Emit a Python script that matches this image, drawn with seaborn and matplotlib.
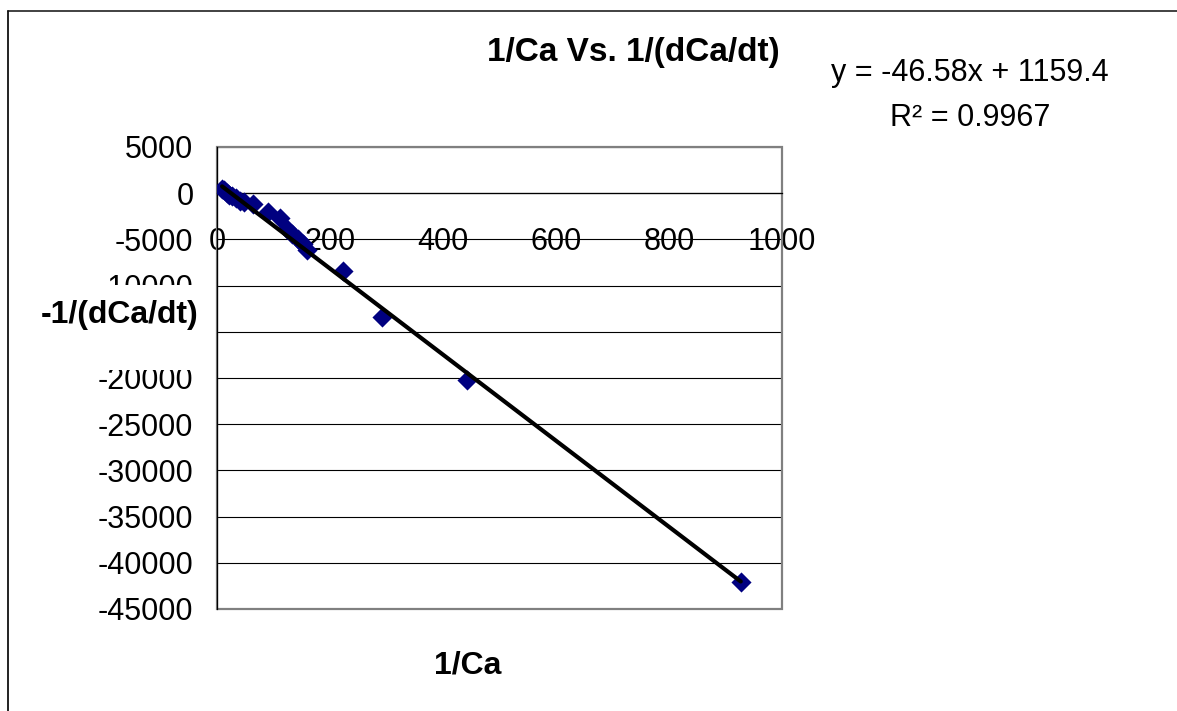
import matplotlib
matplotlib.use("Agg")
import matplotlib.pyplot as plt
from matplotlib.patches import Rectangle
from matplotlib.lines import Line2D
import numpy as np
import pandas as pd
import seaborn as sns

# Measured reciprocal concentration vs reciprocal rate
inv_ca = [9, 13, 17, 22, 27, 33, 40, 47, 63, 90, 111, 124, 133, 143, 152, 159,
          223, 292, 442, 927]
neg_inv_rate = [450, 300, 50, -150, -350, -550, -800, -1000, -1200, -2050, -2700,
                -3900, -4400, -5000, -5500, -6100, -8400, -13400, -20250, -42100]

# Linear trendline reported for the series
slope = -46.58
intercept = 1159.4
r_squared = 0.9967

x_ticks = [0, 200, 400, 600, 800, 1000]
y_ticks = [5000, 0, -5000, -10000, -15000, -20000, -25000, -30000, -35000,
           -40000, -45000]

title_text = "1/Ca Vs. 1/(dCa/dt)"
x_label = "1/Ca"
y_label = "-1/(dCa/dt)"

sns.set_style("white")
plt.rcParams["font.family"] = ["Liberation Sans", "DejaVu Sans"]

W, H = 1177, 711
fig = plt.figure(figsize=(W / 100, H / 100), dpi=100)
fig.patch.set_facecolor("white")


def fx(px):
    return px / W


def fy(py):
    return 1 - py / H


ax = fig.add_axes([fx(217), fy(609), fx(782) - fx(217), fy(147) - fy(609)])

df = pd.DataFrame({"x": inv_ca, "y": neg_inv_rate})
fit_x = np.array([min(inv_ca), max(inv_ca)], dtype=float)
fit = pd.DataFrame({"x": fit_x, "y": slope * fit_x + intercept})

ax.set_xlim(0, 1000)
ax.set_ylim(-45000, 5000)

# horizontal gridlines
ax.yaxis.grid(True, color="black", linewidth=0.8)
ax.xaxis.grid(False)
ax.set_axisbelow(True)

sns.scatterplot(data=df, x="x", y="y", marker="D", s=105, color="#000080",
                linewidth=0, ax=ax, zorder=3)
sns.lineplot(data=fit, x="x", y="y", color="black", linewidth=3.0, ax=ax,
             zorder=4)

ax.set_xlabel("")
ax.set_ylabel("")

# plot-area frame
ax.add_patch(Rectangle((0, 0), 1, 1, transform=ax.transAxes, fill=False,
                       edgecolor="#808080", linewidth=1.6, clip_on=False,
                       zorder=1))
ax.spines["top"].set_visible(False)
ax.spines["right"].set_visible(False)
ax.spines["left"].set_color("black")
ax.spines["left"].set_linewidth(0.9)
ax.spines["left"].set_zorder(2)
ax.spines["bottom"].set_position(("data", 0))
ax.spines["bottom"].set_color("black")
ax.spines["bottom"].set_linewidth(0.9)

ax.set_xticks(x_ticks)
ax.set_xticklabels([str(v) for v in x_ticks])
ax.set_yticks(y_ticks)
ax.set_yticklabels([str(v) for v in y_ticks])
ax.tick_params(axis="x", direction="out", length=7, width=0.9, color="black",
               pad=17, labelsize=22, labelcolor="black")
ax.tick_params(axis="y", direction="out", length=7, width=0.9, color="black",
               pad=10, labelsize=22, labelcolor="black")

# the axis title's box hides the -15000 label behind it
for lbl, val in zip(ax.get_yticklabels(), y_ticks):
    if val == -15000:
        lbl.set_visible(False)

# y-axis title sits on a white box over the tick labels
fig.patches.append(Rectangle((fx(30), fy(370)), fx(204) - fx(30),
                             fy(285) - fy(370), transform=fig.transFigure,
                             facecolor="white", edgecolor="none", zorder=5))
fig.text(fx(199), fy(315), y_label, ha="right", va="center", fontsize=23,
         fontweight="bold", color="black", zorder=6)

fig.text(fx(633), fy(52), title_text, ha="center", va="center", fontsize=24,
         fontweight="bold", color="black")
fig.text(fx(468), fy(665), x_label, ha="center", va="center", fontsize=23,
         fontweight="bold", color="black")

fig.text(fx(970), fy(73), f"y = {slope}x + {intercept}", ha="center",
         va="center", fontsize=22, color="black")
fig.text(fx(970), fy(118), f"R² = {r_squared}", ha="center", va="center",
         fontsize=22, color="black")

# chart border
fig.lines.append(Line2D([fx(8), 1.0], [fy(11), fy(11)],
                        transform=fig.transFigure, color="#333333",
                        linewidth=1.3))
fig.lines.append(Line2D([fx(8), fx(8)], [fy(11), 0.0],
                        transform=fig.transFigure, color="#111111",
                        linewidth=1.3))

fig.savefig("out.png", dpi=100)
